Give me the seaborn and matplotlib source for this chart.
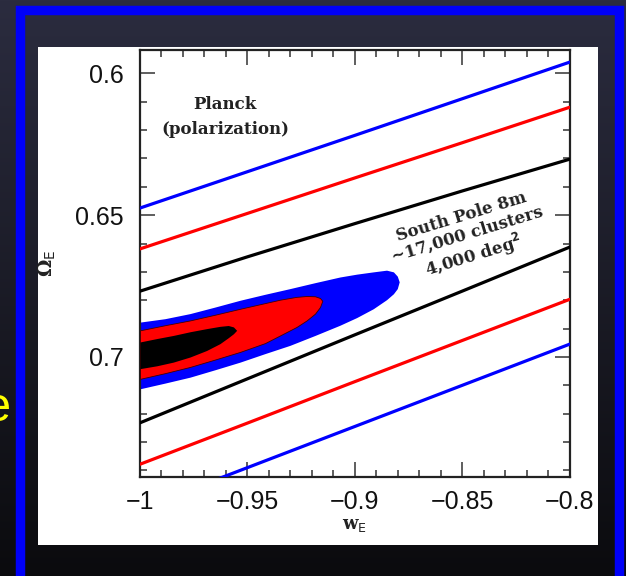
import numpy as np
import pandas as pd
import matplotlib
matplotlib.use("Agg")
import matplotlib.pyplot as plt
import seaborn as sns
from matplotlib.patches import Rectangle
from matplotlib.ticker import MultipleLocator

# --- data ---
w_pos = [-1.0, -0.95, -0.9, -0.85, -0.8]
blue_upper = [0.6475, 0.6347, 0.6219, 0.6090, 0.5961]
red_upper = [0.6619, 0.6494, 0.6369, 0.6245, 0.6120]
black_upper = [0.6768, 0.6647, 0.6530, 0.6415, 0.6303]
black_lower = [0.7232, 0.7077, 0.6922, 0.6768, 0.6613]
red_lower = [0.7378, 0.7233, 0.7087, 0.6942, 0.6797]
blue_lower = [0.7535, 0.7390, 0.7245, 0.7100, 0.6955]

# South Pole 8m contours (outer -> inner)
spt_blue_w = [-1.0, -0.9884, -0.9767, -0.9651, -0.9534, -0.9418, -0.9302, -0.9185,
              -0.9069, -0.8991, -0.8914, -0.8852, -0.8820, -0.8802, -0.8793]
spt_blue_top = [0.6877, 0.6865, 0.6847, 0.6824, 0.6800, 0.6779, 0.6759, 0.6738,
                0.6718, 0.6708, 0.6700, 0.6694, 0.6700, 0.6715, 0.6735]
spt_blue_bot = [0.7112, 0.7092, 0.7071, 0.7045, 0.7018, 0.6988, 0.6959, 0.6924,
                0.6888, 0.6861, 0.6830, 0.6798, 0.6777, 0.6759, 0.6735]

spt_red_w = [-1.0, -0.9884, -0.9767, -0.9651, -0.9534, -0.9418, -0.9348, -0.9271,
             -0.9224, -0.9185, -0.9162, -0.9151]
spt_red_top = [0.6906, 0.6888, 0.6871, 0.6851, 0.6830, 0.6810, 0.6798, 0.6788,
               0.6785, 0.6786, 0.6792, 0.6802]
spt_red_bot = [0.7077, 0.7057, 0.7035, 0.7009, 0.6982, 0.6951, 0.6924, 0.6894,
               0.6871, 0.6847, 0.6824, 0.6802]

spt_black_w = [-1.0, -0.9922, -0.9845, -0.9767, -0.969, -0.9628, -0.9589, -0.9565, -0.955]
spt_black_top = [0.6947, 0.6935, 0.6924, 0.6911, 0.6900, 0.6892, 0.6889, 0.6894, 0.6906]
spt_black_bot = [0.7041, 0.7031, 0.7018, 0.7000, 0.6977, 0.6953, 0.6932, 0.6918, 0.6906]

x_ticks = [-1.0, -0.95, -0.9, -0.85, -0.8]
x_labels = ["\u22121", "\u22120.95", "\u22120.9", "\u22120.85", "\u22120.8"]
y_ticks = [0.6, 0.65, 0.7]
y_labels = ["0.6", "0.65", "0.7"]

sns.set_theme(style="ticks")
plt.rcParams["font.family"] = ["Liberation Sans", "DejaVu Sans"]

W, H = 626, 576
fig = plt.figure(figsize=(W / 100, H / 100), dpi=100)

# slide background: dark gradient
bg = fig.add_axes([0, 0, 1, 1], zorder=-10)
grad = np.linspace(0, 1, 256).reshape(-1, 1)
cmap = matplotlib.colors.LinearSegmentedColormap.from_list("bg", ["#2b2c3f", "#0b0b0e"])
bg.imshow(grad, aspect="auto", cmap=cmap, extent=[0, 1, 0, 1], origin="upper")
bg.set_xlim(0, 1)
bg.set_ylim(0, 1)
bg.axis("off")

# blue frame and white panel
fig.patches.append(Rectangle((20 / W, -0.2), 598.5 / W, 1 - 10 / H + 0.2, transform=fig.transFigure,
                             fill=False, edgecolor="#0000f8", linewidth=6.8, zorder=-5))
fig.patches.append(Rectangle((38 / W, 1 - 545 / H), 560 / W, 498 / H, transform=fig.transFigure,
                             facecolor="white", edgecolor="none", zorder=-4))
# slide text partly hidden behind the panel
fig.text(11 / W, 1 - 421 / H, "e", color="#ffff00", fontsize=35, ha="right", va="baseline")

ax = fig.add_axes([140 / W, 1 - 477.3 / H, 429.5 / W, 427.3 / H])
ax.set_facecolor("white")

# filled contours
ax.fill_between(spt_blue_w, spt_blue_top, spt_blue_bot, color="#0000ff", lw=0, zorder=2)
ax.fill_between(spt_red_w, spt_red_top, spt_red_bot, facecolor="#ff0000", edgecolor="#400000", lw=0.6, zorder=3)
ax.fill_between(spt_black_w, spt_black_top, spt_black_bot, color="black", lw=0, zorder=4)

# Planck contour lines
lines = pd.DataFrame({"w": w_pos * 6,
                      "omega": blue_upper + red_upper + black_upper + black_lower + red_lower + blue_lower,
                      "curve": sum([[n] * 5 for n in ["bu", "ru", "ku", "kl", "rl", "bl"]], [])})
pal = {"bu": "#0000ff", "ru": "#ff0000", "ku": "black", "kl": "black", "rl": "#ff0000", "bl": "#0000ff"}
sns.lineplot(data=lines, x="w", y="omega", hue="curve", palette=pal, lw=2.3, legend=False,
             sort=False, ax=ax, zorder=5)

ax.set_xlim(-1.0, -0.8)
ax.set_ylim(0.7424, 0.5918)
ax.set_xticks(x_ticks)
ax.set_xticklabels(x_labels)
ax.set_yticks(y_ticks)
ax.set_yticklabels(y_labels)
ax.xaxis.set_minor_locator(MultipleLocator(0.01))
ax.yaxis.set_minor_locator(MultipleLocator(0.01))
ax.tick_params(which="both", direction="in", top=True, right=True, color="#333333", width=1.1)
ax.tick_params(which="major", length=11, labelsize=18, labelcolor="#111111")
ax.tick_params(which="minor", length=5)
ax.tick_params(axis="x", pad=9)
ax.tick_params(axis="y", pad=12)
for s in ax.spines.values():
    s.set_linewidth(1.6)
    s.set_color("#222222")

ax.set_xlabel("w$_\\mathrm{E}$", family="DejaVu Serif", fontsize=13, fontweight="bold", color="#222222")
ax.set_ylabel("\u03a9$_\\mathrm{E}$", family="DejaVu Serif", fontsize=14, fontweight="bold", color="#222222")
ax.xaxis.set_label_coords(0.5, -0.112)
ax.xaxis.label.set_va("center")
ax.yaxis.set_label_coords(-0.215, 0.5)
ax.yaxis.label.set_va("center")

ax.text(-0.9604, 0.6155, "Planck\n(polarization)", family="DejaVu Serif", fontsize=12, fontweight="bold",
        color="#222222", ha="center", va="center", linespacing=1.65, zorder=6)
ax.text(-0.8473, 0.6581, "South Pole 8m\n~17,000 clusters\n4,000 deg$^\\mathbf{2}$", family="DejaVu Serif",
        fontsize=12, fontweight="bold", color="#222222", ha="center", va="center", rotation=17,
        rotation_mode="anchor", multialignment="center", linespacing=1.1, zorder=6)

fig.savefig("out.png", dpi=100)
